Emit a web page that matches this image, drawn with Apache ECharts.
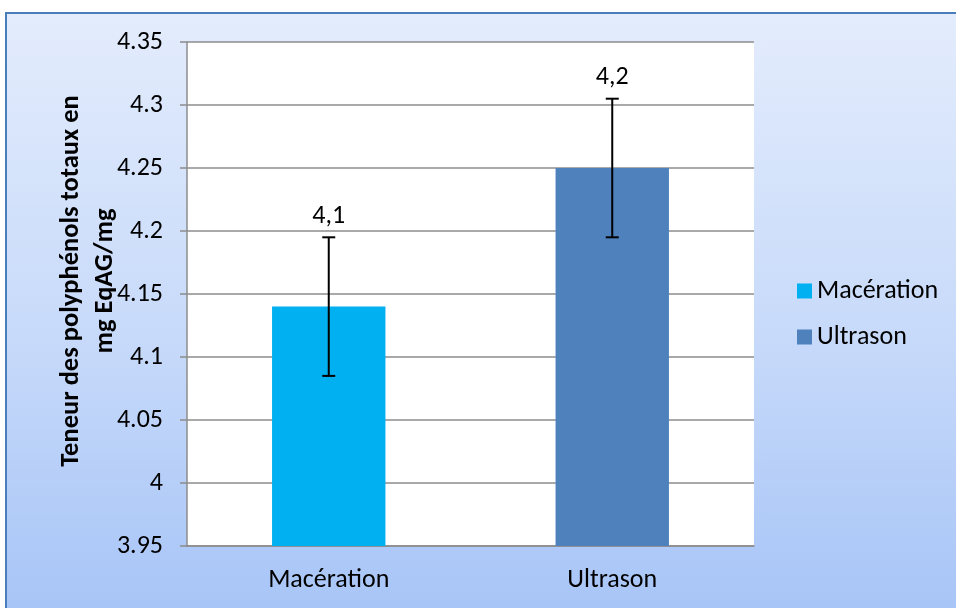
<!DOCTYPE html>
<html>
<head>
<meta charset="utf-8">
<script src="https://cdn.jsdelivr.net/npm/echarts@6/dist/echarts.min.js"></script>
<style>
html,body{margin:0;padding:0;width:956px;height:608px;overflow:hidden;background:#fff;}
#frame{position:absolute;left:5px;top:12px;width:960px;height:610px;border:2px solid #4A7EBB;
background:linear-gradient(to bottom,#E3ECFC 0%,#C9DBFA 50%,#A6C4F7 100%);}
#chart{position:absolute;left:0;top:0;width:956px;height:608px;}
</style>
</head>
<body>
<div id="frame"></div>
<div id="chart"></div>
<script>
const categories = ['Macération', 'Ultrason'];
const seriesNames = ['Macération', 'Ultrason'];
const means = [4.14, 4.25];
const errors = [0.055, 0.055];
const valueLabels = ['4,1', '4,2'];
const yTickLabels = ['3.95','4','4.05','4.1','4.15','4.2','4.25','4.3','4.35'];
const yAxisTitle = 'Teneur des polyphénols totaux en\nmg EqAG/mg';
const colors = ['#00B0F0', '#4F81BD'];

const FONT = 'Carlito, Lato, sans-serif';
const FS = 26;
const chart = echarts.init(document.getElementById('chart'));

const barSeries = seriesNames.map((name, i) => ({
  name: name,
  type: 'bar',
  stack: 'one',
  barWidth: '40%',
  itemStyle: { color: colors[i] },
  data: categories.map((c, j) => (j === i ? means[j] : '-'))
}));

const errData = categories.map((c, i) => [i, means[i] - errors[i], means[i] + errors[i]]);

chart.setOption({
  backgroundColor: 'transparent',
  animation: false,
  textStyle: { fontFamily: FONT },
  grid: { left: 187, right: 202, top: 42, bottom: 62, show: true, backgroundColor: '#fff', borderWidth: 0 },
  legend: {
    orient: 'vertical', left: 792, top: 273,
    itemWidth: 15, itemHeight: 15, itemGap: 20,
    icon: 'rect',
    data: seriesNames,
    textStyle: { fontSize: FS, color: '#000', fontFamily: FONT, padding: [0, 0, 0, 0] }
  },
  xAxis: {
    type: 'category', data: categories,
    axisLine: { lineStyle: { color: '#8C8C8C', width: 1.5 } },
    axisTick: { length: 7, lineStyle: { color: '#8C8C8C', width: 1.5 } },
    axisLabel: { fontSize: FS, color: '#000', margin: 21, fontFamily: FONT }
  },
  yAxis: {
    type: 'value', min: 3.95, max: 4.35, interval: 0.05,
    axisLine: { show: true, lineStyle: { color: '#8C8C8C', width: 1.5 } },
    axisTick: { show: true, length: 7, lineStyle: { color: '#8C8C8C', width: 1.5 } },
    splitLine: { lineStyle: { color: '#8C8C8C', width: 1.5 } },
    axisLabel: {
      fontSize: FS, color: '#000', margin: 24, fontFamily: FONT,
      formatter: (v) => {
        const idx = Math.round((v - 3.95) / 0.05);
        return yTickLabels[idx] !== undefined ? yTickLabels[idx] : String(v);
      }
    }
  },
  graphic: [{
    type: 'text', x: 88, y: 281, rotation: Math.PI / 2,
    style: {
      text: yAxisTitle, textAlign: 'center', textVerticalAlign: 'middle',
      font: 'bold 26.5px ' + FONT, lineHeight: 34, fill: '#000'
    }
  }],
  series: barSeries.concat([{
    type: 'custom',
    name: 'err',
    data: errData,
    encode: { x: 0, y: [1, 2] },
    z: 10,
    renderItem: (params, api) => {
      const x = api.value(0);
      const lo = api.coord([x, api.value(1)]);
      const hi = api.coord([x, api.value(2)]);
      const cap = 6.5;
      const st = { stroke: '#000', lineWidth: 2 };
      return {
        type: 'group',
        children: [
          { type: 'line', shape: { x1: lo[0], y1: lo[1], x2: hi[0], y2: hi[1] }, style: st },
          { type: 'line', shape: { x1: hi[0] - cap, y1: hi[1], x2: hi[0] + cap, y2: hi[1] }, style: st },
          { type: 'line', shape: { x1: lo[0] - cap, y1: lo[1], x2: lo[0] + cap, y2: lo[1] }, style: st },
          { type: 'text', style: { text: valueLabels[params.dataIndex], x: hi[0], y: hi[1] - 8,
              textAlign: 'center', textVerticalAlign: 'bottom', font: FS + 'px ' + FONT, fill: '#000' } }
        ]
      };
    }
  }])
});
</script>
</body>
</html>
